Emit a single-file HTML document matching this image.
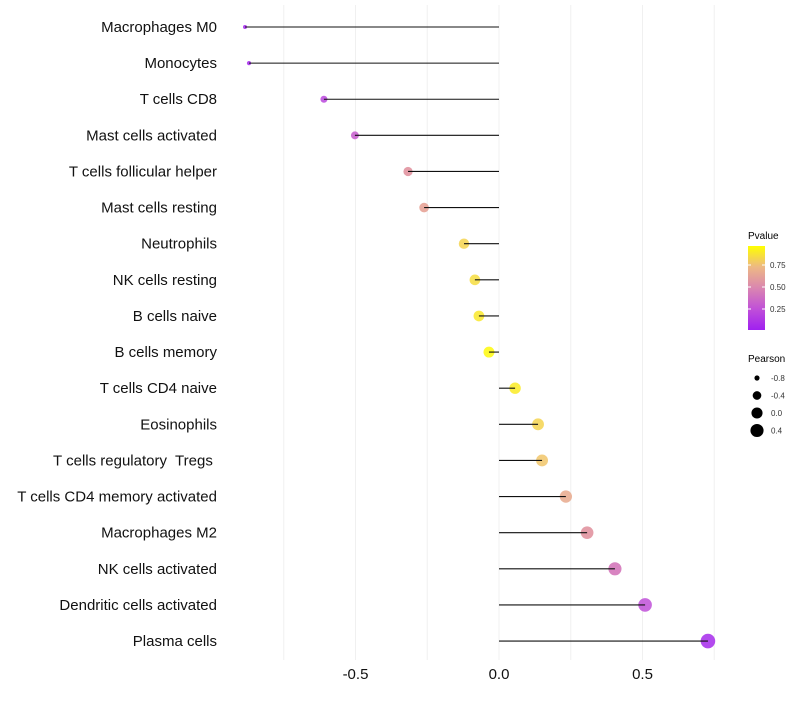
<!DOCTYPE html>
<html><head><meta charset="utf-8"><style>
body{margin:0;background:#fff;}
svg{font-family:"Liberation Sans",sans-serif;}
text{white-space:pre;}
</style></head><body>
<svg id="chart" width="800" height="700">
<defs><linearGradient id="pg" x1="0" y1="1" x2="0" y2="0">
<stop offset="0" stop-color="#A020F0"/><stop offset="0.25" stop-color="#C050D8"/>
<stop offset="0.5" stop-color="#DA86B0"/><stop offset="0.75" stop-color="#EDB884"/>
<stop offset="1" stop-color="#FFFF00"/></linearGradient></defs>
<g id="grid"></g><g id="marks"></g><g id="labels"></g><g id="xaxis"></g>
<g>
<text x="748" y="239" font-size="10">Pvalue</text>
<rect x="748" y="246" width="17" height="84" fill="url(#pg)"/>
<g stroke="#fff" stroke-width="1"><line x1="748" x2="751" y1="265" y2="265"/><line x1="762" x2="765" y1="265" y2="265"/><line x1="748" x2="751" y1="287" y2="287"/><line x1="762" x2="765" y1="287" y2="287"/><line x1="748" x2="751" y1="309" y2="309"/><line x1="762" x2="765" y1="309" y2="309"/></g>
<g font-size="8" fill="#333"><text x="770" y="268">0.75</text><text x="770" y="290">0.50</text><text x="770" y="312">0.25</text></g>
</g>
<g>
<text x="748" y="362" font-size="10">Pearson</text>
<g id="sizeleg"></g>
</g>
</svg>
<script>
const categories=["Macrophages M0","Monocytes","T cells CD8","Mast cells activated","T cells follicular helper","Mast cells resting","Neutrophils","NK cells resting","B cells naive","B cells memory","T cells CD4 naive","Eosinophils","T cells regulatory  Tregs ","T cells CD4 memory activated","Macrophages M2","NK cells activated","Dendritic cells activated","Plasma cells"];
const pearson=[-0.885,-0.871,-0.61,-0.502,-0.317,-0.261,-0.122,-0.084,-0.07,-0.035,0.056,0.136,0.15,0.233,0.307,0.404,0.509,0.728];
const pvalue=[0.02,0.03,0.2,0.3,0.55,0.63,0.85,0.88,0.92,0.98,0.93,0.85,0.8,0.68,0.55,0.4,0.25,0.05];
const xTicks=[-0.5,0,0.5];
const xTickLabels=["-0.5","0.0","0.5"];
const gridVals=[-0.75,-0.5,-0.25,0,0.25,0.5,0.75];
const sizeLegVals=[-0.8,-0.4,0.0,0.4];
const NS="http://www.w3.org/2000/svg";
const x=v=>499+v*287;
const y=i=>27+i*36.12;
const r=v=>Math.sqrt(Math.max(1,30.9+30.4*v));
const stops=[[0,[160,32,240]],[0.25,[192,80,216]],[0.5,[220,130,160]],[0.75,[237,184,132]],[1,[255,255,0]]];
function col(p){for(let k=1;k<stops.length;k++){if(p<=stops[k][0]){const a=stops[k-1],b=stops[k],t=(p-a[0])/(b[0]-a[0]);return "rgb("+a[1].map((c,j)=>Math.round(c+(b[1][j]-c)*t)).join(",")+")";}}return "rgb(255,255,0)";}
function mk(tag,at,parent){const e=document.createElementNS(NS,tag);for(const k in at)e.setAttribute(k,at[k]);document.getElementById(parent).appendChild(e);return e;}
gridVals.forEach(v=>{const l=mk("line",{x1:x(v),x2:x(v),y1:5,y2:660,stroke:"#f0f0f0","stroke-width":1},"grid");

});
categories.forEach((c,i)=>{
const pt=mk("circle",{cx:x(pearson[i]),cy:y(i),r:r(pearson[i]),fill:col(pvalue[i]),"fill-opacity":0.85},"marks");


const ln=mk("line",{x1:x(pearson[i]),x2:x(0),y1:y(i),y2:y(i),stroke:"#111","stroke-width":1.1},"marks");


const t=mk("text",{x:217,y:y(i)+5,"text-anchor":"end","font-size":15,fill:"#111"},"labels");
t.textContent=c;


});
xTicks.forEach((v,i)=>{const t=mk("text",{x:x(v),y:679,"text-anchor":"middle","font-size":15,fill:"#111"},"xaxis");
t.textContent=xTickLabels[i];

});
sizeLegVals.forEach((v,i)=>{const cy=378+i*17.5;
const c=mk("circle",{cx:757,cy:cy,r:r(v),fill:"#000"},"sizeleg");


const t=mk("text",{x:771,y:cy+3,"font-size":8,fill:"#333"},"sizeleg");
t.textContent=v.toFixed(1).replace("-0.0","0.0");

});
</script>
</body></html>
